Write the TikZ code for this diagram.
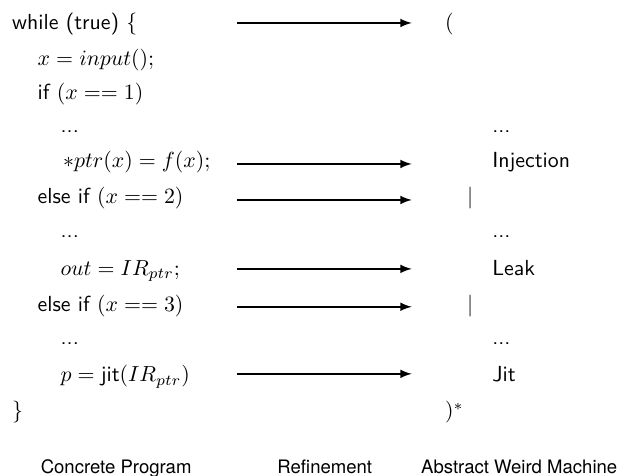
\documentclass[tikz,border=0pt]{standalone}
\usepackage{fontspec}
\usepackage{amsmath,amssymb}
\usepackage{xcolor}
\usetikzlibrary{arrows,positioning,calc}
\newfontfamily\helvfont{TeX Gyre Heros}

\tikzset{
  code/.style={anchor=base west, inner sep=0pt, font=\sffamily},
  amw/.style={anchor=base west, inner sep=0pt, font=\sffamily},
  refine/.style={->, >=latex, thick},
  colcaption/.style={anchor=base, inner sep=0pt, font=\helvfont\fontsize{8.5}{10}\selectfont}
}

\begin{document}
\begin{tikzpicture}
\useasboundingbox (0,0) rectangle (10.0,-7.65);

% Concrete program
\node[code] (loop)  at (0.19,-0.47) {while (true) $\{$};
\node[code] (input) at (0.60,-1.05) {$x = input();$};
\node[code] (if1)   at (0.60,-1.61) {if $(x == 1)$};
\node[code] (dotsA) at (0.97,-2.14) {...};
\node[code] (store) at (1.01,-2.70) {$*ptr(x) = f(x);$};
\node[code] (if2)   at (0.60,-3.28) {else if $(x == 2)$};
\node[code] (dotsB) at (0.97,-3.83) {...};
\node[code] (load)  at (0.97,-4.43) {$out = IR_{ptr};$};
\node[code] (if3)   at (0.60,-5.02) {else if $(x == 3)$};
\node[code] (dotsC) at (0.97,-5.55) {...};
\node[code] (jit)   at (0.97,-6.15) {$p = \textsf{jit}(IR_{ptr})$};
\node[code] (close) at (0.19,-6.73) {$\}$};

% Abstract weird machine
\node[amw] (open)   at (7.16,-0.47) {$($};
\node[amw] (adotsA) at (7.92,-2.14) {...};
\node[amw] (inj)    at (7.92,-2.70) {Injection};
\node[amw,anchor=base] (alt1) at (7.57,-3.28) {$|$};
\node[amw] (adotsB) at (7.92,-3.83) {...};
\node[amw] (leak)   at (7.92,-4.43) {Leak};
\node[amw,anchor=base] (alt2) at (7.57,-5.02) {$|$};
\node[amw] (adotsC) at (7.92,-5.55) {...};
\node[amw] (ajit)   at (7.92,-6.15) {Jit};
\node[amw] (star)   at (7.16,-6.73) {$)^*$};

% Refinement arrows
\coordinate (s1) at (3.82,-0.37); \coordinate (e1) at (6.63,-0.37);
\coordinate (s2) at (3.82,-2.64); \coordinate (e2) at (6.63,-2.64);
\coordinate (s3) at (3.82,-3.22); \coordinate (e3) at (6.63,-3.22);
\coordinate (s4) at (3.82,-4.33); \coordinate (e4) at (6.63,-4.33);
\coordinate (s5) at (3.82,-4.94); \coordinate (e5) at (6.63,-4.94);
\coordinate (s6) at (3.82,-6.02); \coordinate (e6) at (6.63,-6.02);
\draw[refine] (s1) -- (e1);
\draw[refine] (s2) -- (e2);
\draw[refine] (s3) -- (e3);
\draw[refine] (s4) -- (e4);
\draw[refine] (s5) -- (e5);
\draw[refine] (s6) -- (e6);

% Column captions
\node[colcaption] (cp)  at (1.87,-7.62) {Concrete Program};
\node[colcaption] (ref) at (5.23,-7.62) {Refinement};
\node[colcaption] (awm) at (8.36,-7.62) {Abstract Weird Machine};
\end{tikzpicture}
\end{document}
